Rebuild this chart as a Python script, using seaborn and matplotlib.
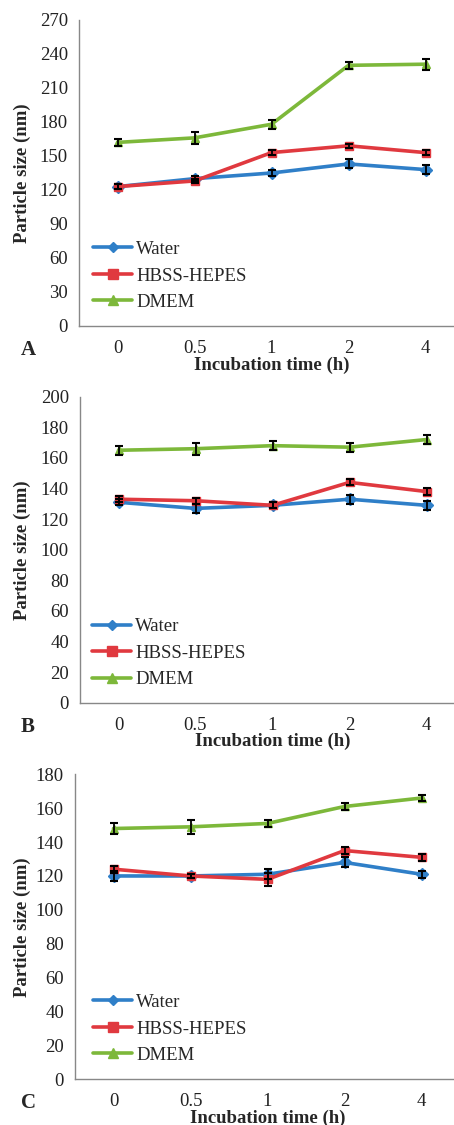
import pandas as pd
import matplotlib
matplotlib.use("Agg")
import matplotlib.pyplot as plt
import seaborn as sns

# tempos de incubação (categorias do eixo x)
tempos = ['0', '0.5', '1', '2', '4']
meios = ['Water', 'HBSS-HEPES', 'DMEM']

# Painel A
a_water = [123, 130, 135, 143, 138]
a_water_err = [2, 2, 3, 4, 4]
a_hbss = [123, 128, 153, 159, 153]
a_hbss_err = [2, 2, 2, 2, 2]
a_dmem = [162, 166, 178, 230, 231]
a_dmem_err = [3, 5, 4, 3, 5]

# Painel B
b_water = [131, 127, 129, 133, 129]
b_water_err = [2, 3, 2, 3, 3]
b_hbss = [133, 132, 129, 144, 138]
b_hbss_err = [2, 2, 2, 2, 2]
b_dmem = [165, 166, 168, 167, 172]
b_dmem_err = [3, 4, 3, 3, 3]

# Painel C
c_water = [120, 120, 121, 128, 121]
c_water_err = [3, 1, 3, 3, 2]
c_hbss = [124, 120, 118, 135, 131]
c_hbss_err = [2, 1, 4, 2, 2]
c_dmem = [148, 149, 151, 161, 166]
c_dmem_err = [3, 4, 2, 2, 2]

sns.set_style("white")
plt.rcParams['font.family'] = ['Liberation Serif', 'DejaVu Serif']

cores = {'Water': '#2f7fc8', 'HBSS-HEPES': '#e0393f', 'DMEM': '#7db83a'}
marcadores = {'Water': 'D', 'HBSS-HEPES': 's', 'DMEM': '^'}
tamanhos = {'Water': 6, 'HBSS-HEPES': 8.5, 'DMEM': 8}

paineis = [
    ('A', [a_water, a_hbss, a_dmem], [a_water_err, a_hbss_err, a_dmem_err],
     270, 30, [79, 20, 326], (0.036, 0.278)),
    ('B', [b_water, b_hbss, b_dmem], [b_water_err, b_hbss_err, b_dmem_err],
     200, 20, [80, 396.7, 702.7], (0.031, 0.277)),
    ('C', [c_water, c_hbss, c_dmem], [c_water_err, c_hbss_err, c_dmem_err],
     180, 20, [75, 774.3, 1079.3], (0.047, 0.28)),
]

W, H = 454, 1125
fig = plt.figure(figsize=(W / 100, H / 100), dpi=100)

for letra, series, erros, ymax, passo, (esq, topo, base), leg_pos in paineis:
    ax = fig.add_axes([esq / W, 1 - base / H, 385 / W, (base - topo) / H])

    linhas = []
    for meio, vals in zip(meios, series):
        for i, v in enumerate(vals):
            linhas.append({'pos': i, 'tamanho': v, 'meio': meio})
    df = pd.DataFrame(linhas)

    sns.lineplot(data=df, x='pos', y='tamanho', hue='meio', style='meio',
                 palette=cores, markers=marcadores, dashes=False,
                 linewidth=2.6, ax=ax, legend=True)
    for ln in ax.lines:
        ln.set_markeredgecolor(ln.get_color())
        ln.set_markeredgewidth(1)
        lab = ln.get_label()
        if lab in tamanhos:
            ln.set_markersize(tamanhos[lab])
    for meio, vals, err in zip(meios, series, erros):
        ax.errorbar(range(len(tempos)), vals, yerr=err, fmt='none',
                    ecolor='black', elinewidth=1.3, capsize=3, capthick=1.5,
                    zorder=5)

    ax.set_xlim(-0.5, 4.5)
    ax.set_ylim(0, ymax)
    ax.set_yticks(range(0, ymax + 1, passo))
    ax.set_xticks(range(len(tempos)))
    ax.set_xticklabels(tempos)
    ax.set_xticks([i - 0.5 for i in range(len(tempos) + 1)], minor=True)
    ax.tick_params(axis='x', which='major', length=0, pad=10,
                   labelsize=13.5, colors='#222222')
    ax.tick_params(axis='x', which='minor', length=5, width=1,
                   color='#888888', direction='out')
    ax.tick_params(axis='y', length=5, width=1, color='#888888',
                   direction='out', pad=3, labelsize=13.5, labelcolor='#222222')
    sns.despine(ax=ax)
    for s in ['left', 'bottom']:
        ax.spines[s].set_color('#888888')
        ax.spines[s].set_linewidth(1)

    ax.set_xlabel('Incubation time (h)', fontsize=13.5, fontweight='bold')
    ax.set_ylabel('Particle size (nm)', fontsize=13.5, fontweight='bold')
    altura = base - topo
    ax.xaxis.set_label_coords(0.5, -39 / altura, transform=ax.transAxes)
    ax.xaxis.label.set_va('center')
    ax.yaxis.set_label_coords((22 - esq) / 385, 0.5, transform=ax.transAxes)
    ax.yaxis.label.set_va('center')

    handles, labels = ax.get_legend_handles_labels()
    ax.legend(handles, labels, loc='upper left', bbox_to_anchor=leg_pos,
              frameon=False, fontsize=13.5, handlelength=2.1,
              handletextpad=0.2, labelspacing=0.5, borderpad=0,
              borderaxespad=0, markerscale=0.9)

    fig.text(28 / W, 1 - (base + 24) / H, letra, fontsize=15,
             fontweight='bold', ha='center', va='center')

fig.savefig('out.png', dpi=100)
